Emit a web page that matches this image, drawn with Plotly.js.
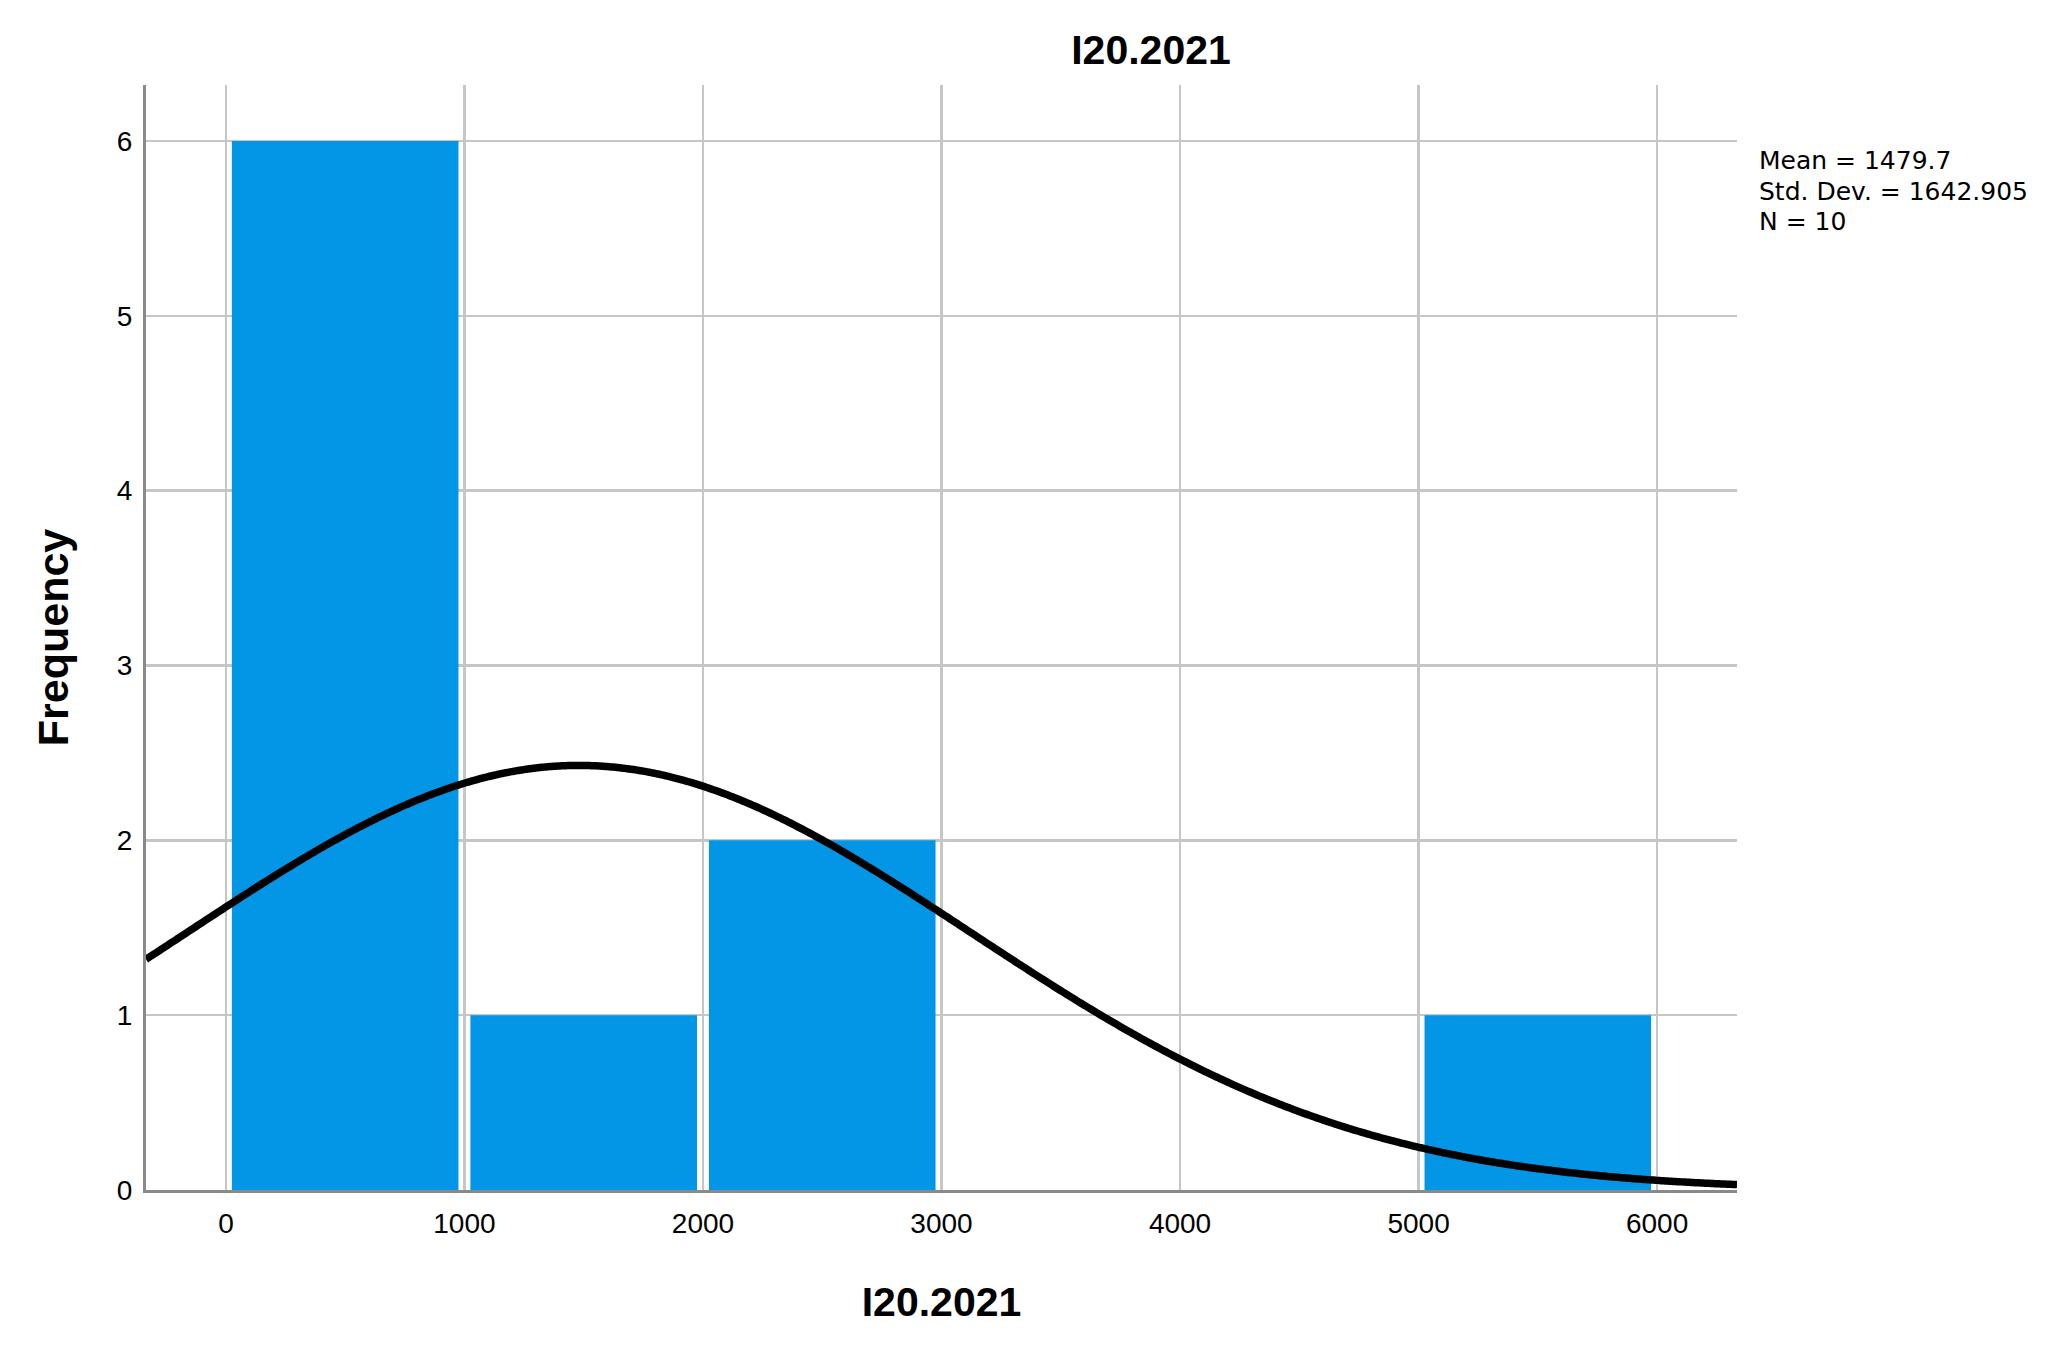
<!DOCTYPE html>
<html>
<head>
<meta charset="utf-8">
<script src="https://cdn.plot.ly/plotly-3.0.1.min.js"></script>
<style>html,body{margin:0;padding:0;background:#fff;}#chart{width:2062px;height:1352px;}</style>
</head>
<body>
<div id="chart"></div>
<script>
// Histogram bins (bin centres, width 1000) and frequencies
const binCenters = [500, 1500, 2500, 3500, 4500, 5500];
const frequencies = [6, 1, 2, 0, 0, 1];
const binWidth = 1000;

// Summary statistics shown on the chart
const meanValue = 1479.7;
const stdDev = 1642.905;
const nCount = 10;
const statLines = ["Mean = 1479.7", "Std. Dev. = 1642.905", "N = 10"];

const xTickVals = [0, 1000, 2000, 3000, 4000, 5000, 6000];
const yTickVals = [0, 1, 2, 3, 4, 5, 6];
const titleText = "I20.2021";
const xTitle = "I20.2021";
const yTitle = "Frequency";

// Fitted normal curve (from the stated mean, std. dev. and N)
const xRange = [-335, 6335];
const curveX = [];
const curveY = [];
for (let i = 0; i <= 400; i++) {
  const x = xRange[0] + (xRange[1] - xRange[0]) * i / 400;
  const z = (x - meanValue) / stdDev;
  curveX.push(x);
  curveY.push(nCount * binWidth * Math.exp(-0.5 * z * z) / (stdDev * Math.sqrt(2 * Math.PI)));
}

const traces = [
  {
    type: 'bar',
    x: binCenters,
    y: frequencies,
    width: binCenters.map(() => binWidth * 0.95),
    marker: { color: '#0496e6', line: { width: 0 } },
    hoverinfo: 'x+y'
  },
  {
    type: 'scatter',
    mode: 'lines',
    x: curveX,
    y: curveY,
    line: { color: '#000000', width: 7.5, shape: 'spline' },
    hoverinfo: 'skip'
  }
];

const H = 1352, T = 85, B = 162;
const plotH = H - T - B;
function py(Y) { return (H - B - Y) / plotH; }

const layout = {
  width: 2062,
  height: 1352,
  paper_bgcolor: '#ffffff',
  plot_bgcolor: '#ffffff',
  showlegend: false,
  margin: { l: 146, r: 325, t: T, b: B, pad: 0 },
  font: { family: 'Liberation Sans, Arial, sans-serif', color: '#000' },
  title: {
    text: titleText,
    font: { family: 'Liberation Sans, Arial, sans-serif', size: 41, color: '#000', weight: 'bold' },
    x: 1151 / 2062, xanchor: 'center', xref: 'container',
    y: 1 - 50 / 1352, yanchor: 'middle', yref: 'container'
  },
  xaxis: {
    range: xRange,
    tickvals: xTickVals,
    ticktext: xTickVals.map(String),
    showgrid: true,
    gridcolor: '#c6c6c6',
    gridwidth: 2.5,
    zeroline: false,
    showline: true,
    linecolor: '#8a8a8a',
    linewidth: 3,
    ticks: '',
    ticklabelstandoff: 6,
    tickfont: { family: 'Liberation Sans, Arial, sans-serif', size: 28, color: '#000' },
    title: {
      text: xTitle,
      font: { family: 'Liberation Sans, Arial, sans-serif', size: 41, color: '#000', weight: 'bold' },
      standoff: 50
    },
    fixedrange: true
  },
  yaxis: {
    range: [0, 6.32],
    tickvals: yTickVals,
    ticktext: yTickVals.map(String),
    showgrid: true,
    gridcolor: '#c6c6c6',
    gridwidth: 2.5,
    zeroline: false,
    showline: true,
    linecolor: '#8a8a8a',
    linewidth: 3,
    ticks: '',
    ticklabelstandoff: 5,
    tickfont: { family: 'Liberation Sans, Arial, sans-serif', size: 28, color: '#000' },
    title: {
      text: yTitle,
      font: { family: 'Liberation Sans, Arial, sans-serif', size: 43, color: '#000', weight: 'bold' },
      standoff: 35
    },
    fixedrange: true
  },
  annotations: statLines.map((t, i) => ({
    text: t,
    xref: 'paper', yref: 'paper',
    x: (1757 - 146) / (2062 - 146 - 325), xanchor: 'left',
    y: py(161 + 30 * i), yanchor: 'middle',
    showarrow: false,
    align: 'left',
    font: { family: 'DejaVu Sans, sans-serif', size: 25, color: '#000' }
  }))
};

Plotly.newPlot('chart', traces, layout, { displayModeBar: false, staticPlot: true });
</script>
</body>
</html>
